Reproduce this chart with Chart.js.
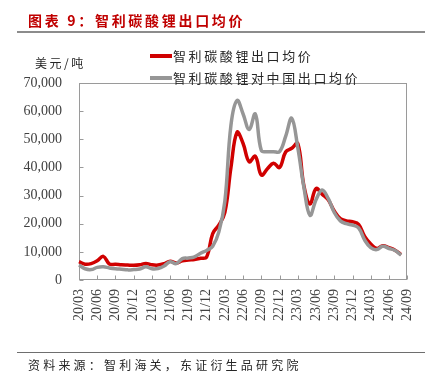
<!DOCTYPE html>
<html>
<head>
<meta charset="utf-8">
<script src="https://cdn.jsdelivr.net/npm/chart.js@4/dist/chart.umd.min.js"></script>
<style>
  html, body { margin: 0; padding: 0; background: #fff; }
  #wrap { position: relative; width: 433px; height: 381px; overflow: hidden; }
  #c { position: absolute; left: 0; top: 0; }
  .txt { position: absolute; white-space: nowrap; font-family: "Noto Sans CJK SC", sans-serif; line-height: 1; }
  #title { left: 28px; top: 13px; font-size: 14px; font-weight: bold; color: #C00000; letter-spacing: 2.7px; }
  #rule1 { position: absolute; left: 17px; top: 31px; width: 408px; height: 2px; background: #8c8c8c; }
  #rule2 { position: absolute; left: 17px; top: 352px; width: 408px; height: 1px; background: #6e6e6e; }
  #source { left: 28px; top: 359px; font-size: 12px; color: #262626; letter-spacing: 3.2px; }
  #unit { left: 35px; top: 57px; font-size: 12px; color: #262626; letter-spacing: 2.5px; }
  .leg { position: absolute; left: 150px; width: 22px; height: 4px; }
  .legt { left: 173px; font-size: 13px; color: #262626; letter-spacing: 2.6px; }
</style>
</head>
<body>
<div id="wrap">
  <canvas id="c" width="433" height="381"></canvas>
  <div id="title" class="txt">图表 9：智利碳酸锂出口均价</div>
  <div id="rule1"></div>
  <div id="unit" class="txt">美元/吨</div>
  <div class="leg" id="leg1" style="top:54px;"></div>
  <div class="txt legt" id="legt1" style="top:49px;"></div>
  <div class="leg" id="leg2" style="top:76px;"></div>
  <div class="txt legt" id="legt2" style="top:71px;"></div>
  <div id="rule2"></div>
  <div id="source" class="txt">资料来源：智利海关，东证衍生品研究院</div>
</div>
<script>
// ---- data ----
const months = [
  "20/03","20/04","20/05","20/06","20/07","20/08","20/09","20/10","20/11","20/12",
  "21/01","21/02","21/03","21/04","21/05","21/06","21/07","21/08","21/09","21/10","21/11","21/12",
  "22/01","22/02","22/03","22/04","22/05","22/06","22/07","22/08","22/09","22/10","22/11","22/12",
  "23/01","23/02","23/03","23/04","23/05","23/06","23/07","23/08","23/09","23/10","23/11","23/12",
  "24/01","24/02","24/03","24/04","24/05","24/06","24/07","24/08","24/09"
];
const seriesNames = ["智利碳酸锂出口均价", "智利碳酸锂对中国出口均价"];
const chileExportPrice = [
  6500, 5600, 5800, 6800, 8400, 5700, 5600, 5400, 5300, 5200,
  5400, 5900, 5400, 5300, 5800, 6700, 6000, 6800, 7100, 7300, 7700, 8200,
  16500, 19500, 24000, 40000, 52500, 48500, 42000, 44000, 37300, 39500, 41500, 40000,
  45500, 46800, 48500, 33500, 27000, 32500, 30500, 28500, 24500, 21800, 21000, 20700,
  19800, 15500, 12800, 11200, 12200, 11500, 10600, 9000, null
];
const chileToChinaPrice = [
  5300, 4000, 3700, 4500, 4700, 4300, 4000, 3800, 3600, 3700,
  3900, 4700, 4000, 4100, 5000, 6500, 5800, 7600, 7800, 8200, 9500, 10500,
  12000, 17000, 28000, 55000, 63800, 59000, 53500, 59000, 46000, 45600, 45600, 45600,
  51000, 57500, 47000, 33000, 23000, 28500, 32000, 29000, 24000, 21000, 20000, 19500,
  18500, 14200, 11500, 10800, 12000, 11200, 10500, 8800, null
];
const yTicks = [0, 10000, 20000, 30000, 40000, 50000, 60000, 70000];
const tickEvery = 3;

const colors = ["#D00000", "#969696"];
document.getElementById("legt1").textContent = seriesNames[0];
document.getElementById("legt2").textContent = seriesNames[1];
document.getElementById("leg1").style.background = colors[0];
document.getElementById("leg2").style.background = colors[1];

const frame = {
  id: "frame",
  beforeDatasetsDraw(chart) {
    const ctx = chart.ctx;
    const a = chart.chartArea;
    const xs = chart.scales.x, ys = chart.scales.y;
    ctx.save();
    ctx.strokeStyle = "#9a9a9a";
    ctx.lineWidth = 1;
    const L = Math.round(a.left) + 0.5, R = Math.round(a.right) - 0.5;
    const T = Math.round(a.top) + 0.5, B = Math.round(a.bottom) - 0.5;
    ctx.strokeRect(L, T, R - L, B - T);
    ctx.beginPath();
    for (let i = 0; i < months.length; i += tickEvery) {
      const x = Math.round(xs.getPixelForValue(i)) + 0.5;
      ctx.moveTo(x, B); ctx.lineTo(x, B - 4);
    }
    ys.ticks.forEach(t => {
      const y = Math.round(ys.getPixelForValue(t.value)) + 0.5;
      ctx.moveTo(L, y); ctx.lineTo(L + 4, y);
    });
    ctx.stroke();
    ctx.restore();
  }
};

new Chart(document.getElementById("c"), {
  type: "line",
  data: {
    labels: months,
    datasets: [
      { label: seriesNames[0], data: chileExportPrice, borderColor: colors[0], backgroundColor: colors[0],
        borderWidth: 3.5, pointRadius: 0, tension: 0.4, order: 1 },
      { label: seriesNames[1], data: chileToChinaPrice, borderColor: colors[1], backgroundColor: colors[1],
        borderWidth: 3.5, pointRadius: 0, tension: 0.4, order: 0 }
    ]
  },
  options: {
    responsive: false,
    animation: false,
    layout: { padding: { top: 83, right: 22, bottom: 0, left: 0 } },
    plugins: { legend: { display: false }, tooltip: { enabled: false }, title: { display: false } },
    scales: {
      x: {
        type: "category",
        offset: false,
        grid: { display: false, drawTicks: false },
        border: { display: false },
        ticks: {
          autoSkip: false, maxRotation: 90, minRotation: 90, padding: 9,
          color: "#404040", font: { family: "Liberation Serif", size: 14 },
          callback: (v, i) => (i % tickEvery === 0 ? months[i] : null)
        },
        afterFit: s => { s.height = 101; }
      },
      y: {
        min: 0, max: 70000,
        afterBuildTicks: s => { s.ticks = yTicks.map(v => ({ value: v })); },
        grid: { display: false, drawTicks: false },
        border: { display: false },
        ticks: {
          padding: 17, color: "#404040", font: { family: "Liberation Serif", size: 14 },
          callback: v => v.toLocaleString("en-US")
        },
        afterFit: s => { s.width = 79; }
      }
    }
  },
  plugins: [frame]
});
</script>
</body>
</html>
